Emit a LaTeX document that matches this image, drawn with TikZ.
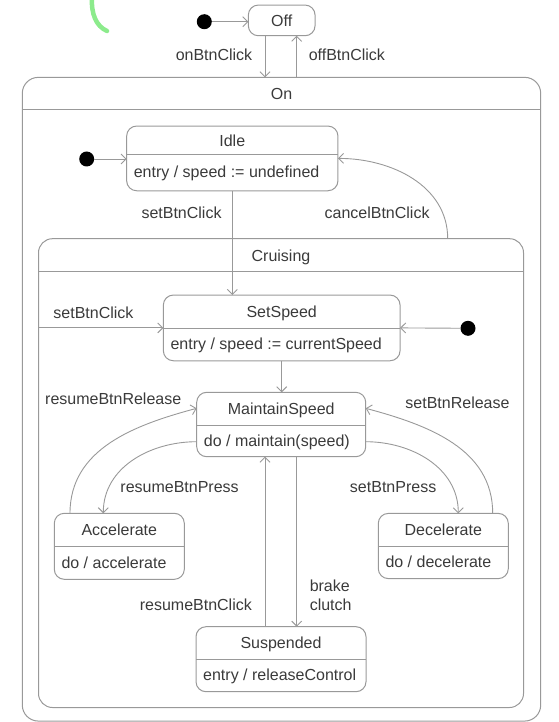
\documentclass[tikz,border=0pt]{standalone}
\usepackage{fontspec}
\setmainfont{Liberation Sans}
\usepackage{tikz}
\usetikzlibrary{arrows.meta,positioning,calc}
\definecolor{linegray}{HTML}{999999}
\definecolor{textgray}{HTML}{3A3A3A}
\definecolor{markgreen}{HTML}{8CEB8C}

\tikzset{
  state/.style={draw=linegray, line width=1pt, rounded corners=10pt, inner sep=0pt, outer sep=0pt, text=textgray, font=\fontsize{16}{19}\selectfont},
  composite/.style={state, rounded corners=16pt},
  divline/.style={draw=linegray, line width=1pt},
  stitle/.style={text=textgray, font=\fontsize{16}{19}\selectfont, inner sep=0pt, text height=11pt, text depth=3pt},
  trig/.style={stitle},
  trans/.style={draw=linegray, line width=0.9pt, -{Straight Barb[length=5pt,width=10pt]}},
  startdot/.style={circle, fill=black, inner sep=0pt, minimum size=15pt},
}

% header line and title of a state, then its action line
\newcommand{\statehead}[3]{%
  \draw[divline] ($(#1.north west)+(0,#2)$) -- ($(#1.north east)+(0,#2)$);
  \node[stitle] at ($(#1.north)+(0,#2/2+2)$) {#3};}
\newcommand{\statedo}[3]{%
  \node[stitle, anchor=west] at ($(#1.west)+(7,#2/2+1.5)$) {#3};}

\begin{document}
\begin{tikzpicture}[x=1pt, y=-1pt]
\useasboundingbox (0,0) rectangle (558,722);
% stray marker stroke
\draw[markgreen, line width=4.5pt, line cap=round] (92,-3) .. controls (91,14) and (96,26) .. (107,31);

% composite states
\node[composite, minimum width=518.4, minimum height=643.7] (on) at (281.5,399.2) {};
\statehead{on}{32}{On}
\node[composite, rounded corners=14pt, minimum width=485, minimum height=468.8] (cruising) at (281,473.1) {};
\statehead{cruising}{33}{Cruising}

% simple states
\node[state, minimum width=66.7, minimum height=30.7] (off) at (281.7,20.4) {Off};
\node[state, minimum width=211.3, minimum height=64.7] (idle) at (232.3,158.4) {};
\statehead{idle}{28}{Idle}
\statedo{idle}{28}{entry / speed := undefined}
\node[state, minimum width=236.7, minimum height=65.7] (setspeed) at (281.7,327.9) {};
\statehead{setspeed}{33}{SetSpeed}
\statedo{setspeed}{33}{entry / speed := currentSpeed}
\node[state, minimum width=169, minimum height=64.4] (maintain) at (281.2,424.5) {};
\statehead{maintain}{32.7}{MaintainSpeed}
\statedo{maintain}{32.7}{do / maintain(speed)}
\node[state, minimum width=130, minimum height=66] (accel) at (119.3,546.3) {};
\statehead{accel}{32.7}{Accelerate}
\statedo{accel}{32.7}{do / accelerate}
\node[state, minimum width=130, minimum height=65.2] (decel) at (443.3,546) {};
\statehead{decel}{32.7}{Decelerate}
\statedo{decel}{32.7}{do / decelerate}
\node[state, minimum width=170, minimum height=65] (suspended) at (281,659.2) {};
\statehead{suspended}{32.3}{Suspended}
\statedo{suspended}{32.3}{entry / releaseControl}

% initial pseudo states
\node[startdot] (init0) at (204.3,21.7) {};
\node[startdot] (init1) at (86.7,159) {};
\node[startdot] (init2) at (468,328.3) {};

% transitions
\draw[trans] (init0) -- (init0 -| off.west);
\draw[trans] ([xshift=-16.7pt]off.south) -- ([xshift=-16.7pt]off.south |- on.north)
  node[trig, midway, anchor=east, xshift=-12.3pt] {onBtnClick};
\draw[trans] ([xshift=15pt]off.south |- on.north) -- ([xshift=15pt]off.south)
  node[trig, midway, anchor=west, xshift=11.6pt] {offBtnClick};
\draw[trans] (init1) -- (init1 -| idle.west);
\draw[trans] (idle.south) -- (idle.south |- setspeed.north)
  node[trig, pos=0, anchor=east, xshift=-10.3pt, yshift=-23.3pt] {setBtnClick};
\draw[trans] ([xshift=166.7pt]cruising.north) to[out=90, in=0]
  node[trig, pos=0, anchor=east, xshift=-17.7pt, yshift=24.7pt] {cancelBtnClick} (idle.east);
\draw[trans] (setspeed.west -| cruising.west) -- (setspeed.west)
  node[trig, pos=0, anchor=west, xshift=14.5pt, yshift=13pt] {setBtnClick};
\draw[trans] (init2) -- (setspeed.east);
\draw[trans] (setspeed.south) -- (setspeed.south |- maintain.north);
\draw[trans] ([xshift=-49.3pt]accel.north) to[out=90, in=195]
  node[trig, pos=1, anchor=east, xshift=-15pt, yshift=8.3pt] {resumeBtnRelease} ([yshift=16.2pt]maintain.west);
\draw[trans] ([yshift=-17.2pt]maintain.west) to[out=180, in=90]
  node[trig, pos=1, anchor=west, xshift=16.7pt, yshift=25pt] {resumeBtnPress} ([xshift=-16pt]accel.north);
\draw[trans] ([xshift=49.4pt]decel.north) to[out=90, in=-15]
  node[trig, pos=1, anchor=west, xshift=39.3pt, yshift=4.3pt] {setBtnRelease} ([yshift=16.2pt]maintain.east);
\draw[trans] ([yshift=-17.2pt]maintain.east) to[out=0, in=90]
  node[trig, pos=1, anchor=east, xshift=-21.6pt, yshift=25.3pt] {setBtnPress} ([xshift=15pt]decel.north);
\draw[trans] ([xshift=15.5pt]maintain.south) -- ([xshift=15.5pt]maintain.south |- suspended.north)
  node[trig, pos=0.77, anchor=west, xshift=12.6pt] {brake}
  node[trig, pos=0.88, anchor=west, xshift=12.6pt] {clutch};
\draw[trans] ([xshift=-16.2pt]maintain.south |- suspended.north) -- ([xshift=-16.2pt]maintain.south)
  node[trig, pos=0.12, anchor=east, xshift=-12.7pt] {resumeBtnClick};
\end{tikzpicture}
\end{document}
